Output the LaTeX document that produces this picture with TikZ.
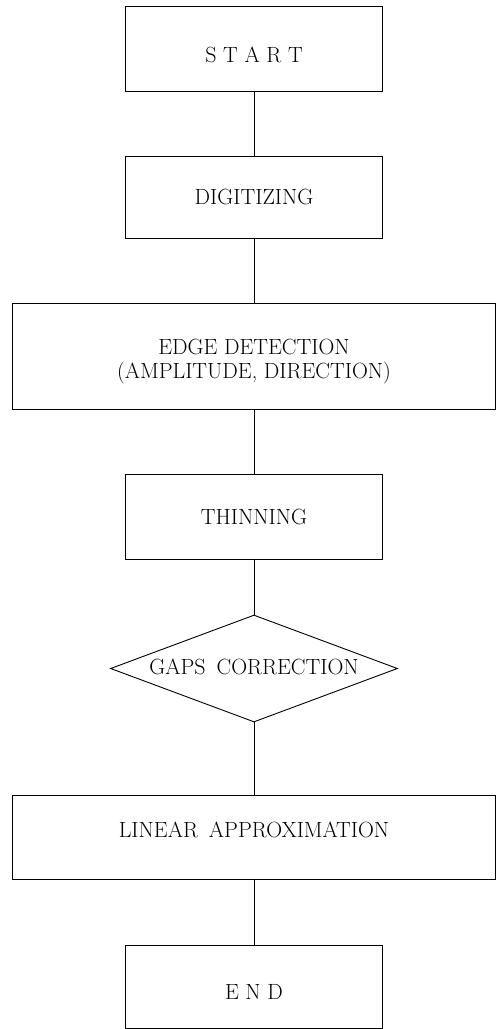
\documentclass[tikz,border=0pt]{standalone}
\usetikzlibrary{shapes.geometric}
\newcommand{\lowertext}[2]{\raisebox{#1}[\height][\depth]{#2}}
\begin{document}
\begin{tikzpicture}[x=1pt,y=-1pt,
  box/.style={draw, line width=0.9pt, rectangle, inner sep=0pt, align=center,
    font=\fontsize{22}{23}\selectfont},
  narrow/.style={box, minimum width=257pt},
  wide/.style={box, minimum width=483pt},
  decision/.style={draw, line width=0.9pt, diamond, aspect=2.68, inner sep=0pt,
    minimum width=287pt, minimum height=107pt, font=\fontsize{22}{23}\selectfont},
  link/.style={line width=0.9pt}]
\useasboundingbox (0,0) rectangle (500,1029);
\node[narrow, minimum height=85pt] (start) at (254,48.5) {\lowertext{-6pt}{S T A R T}};
\node[narrow, minimum height=82pt] (digit) at (254,197) {DIGITIZING};
\node[wide, minimum height=106pt] (edge) at (254,356)
  {\lowertext{-6pt}{\begin{tabular}{@{}c@{}}EDGE DETECTION\\(AMPLITUDE, DIRECTION)\end{tabular}}};
\node[narrow, minimum height=85pt] (thin) at (254,516.5) {THINNING};
\node[decision] (gaps) at (254,668.5) {\lowertext{2pt}{GAPS\hspace{11pt}CORRECTION}};
\node[wide, minimum height=84pt] (linear) at (254,837) {\lowertext{7pt}{LINEAR\hspace{11pt}APPROXIMATION}};
\node[narrow, minimum height=83pt] (end) at (254,986.5) {\lowertext{-5pt}{E N D}};
\draw[link] (start) -- (digit);
\draw[link] (digit) -- (edge);
\draw[link] (edge) -- (thin);
\draw[link] (thin) -- (gaps);
\draw[link] (gaps) -- (linear);
\draw[link] (linear) -- (end);
\end{tikzpicture}
\end{document}
